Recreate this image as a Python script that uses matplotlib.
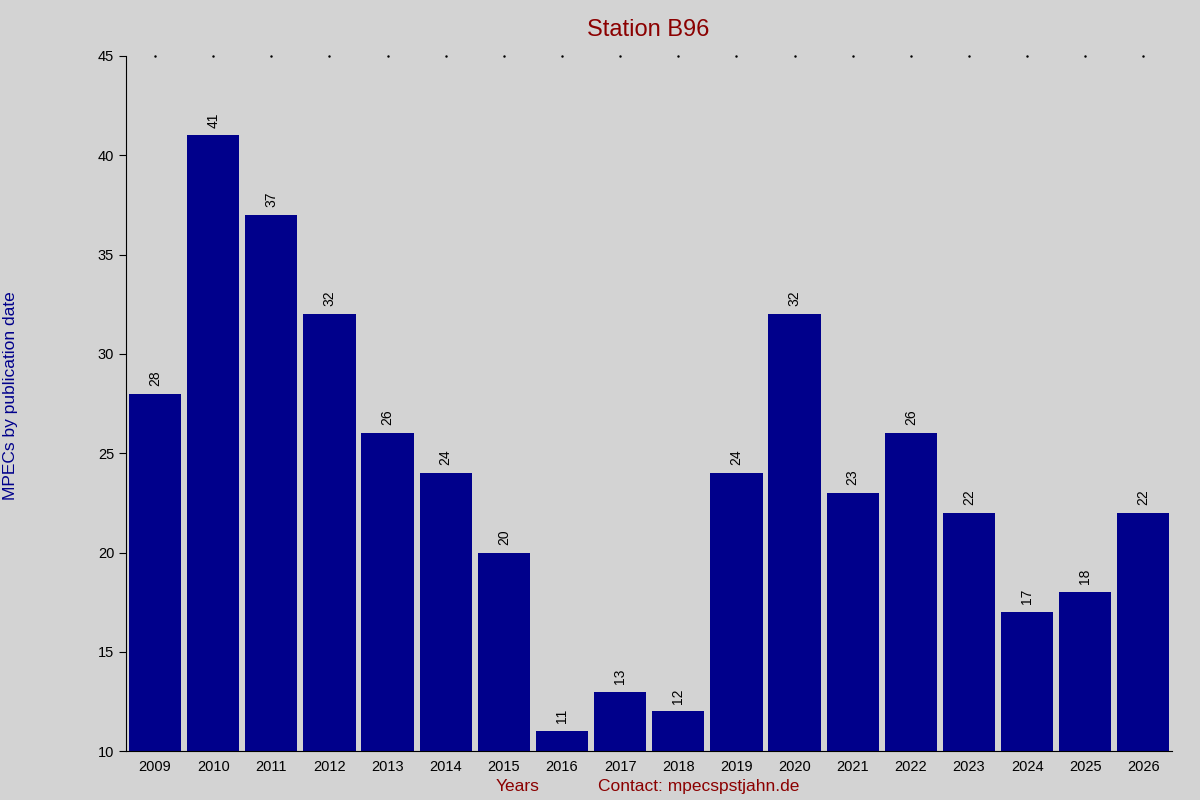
import matplotlib
matplotlib.use("Agg")
import matplotlib.pyplot as plt

years = [str(y) for y in range(2009, 2027)]
counts = [28, 41, 37, 32, 26, 24, 20, 11, 13, 12, 24, 32, 23, 26, 22, 17, 18, 22]

plt.rcParams['font.family'] = ['Liberation Sans', 'DejaVu Sans']
fig = plt.figure(figsize=(12, 8), dpi=100, facecolor='#d3d3d3')
ax = fig.add_axes([0.105, 0.061, 0.872, 0.869], facecolor='#d3d3d3')
x = list(range(len(years)))
ax.bar(x, [c - 10 for c in counts], bottom=10, width=0.9, color='#00008b')
for xi, c in zip(x, counts):
    ax.text(xi, c + 0.4, str(c), rotation=90, ha='center', va='bottom', fontsize=10, color='black')
ax.set_xlim(-0.5, len(years) - 0.5)
ax.set_ylim(10, 45)
ax.set_yticks(range(10, 46, 5))
ax.set_xticks(x)
ax.set_xticklabels(years, fontsize=10.5)
ax.tick_params(axis='y', labelsize=10.5, direction='out', length=5)
ax.tick_params(axis='x', length=0, pad=6)
for s in ['top', 'right']:
    ax.spines[s].set_visible(False)
for xi in x:
    ax.plot(xi, 45, marker='.', markersize=1.5, color='black', clip_on=False)
fig.text(0.54, 0.962, 'Station B96', ha='center', va='center', fontsize=17, color='#8b0000')
fig.text(0.431, 0.017, 'Years', ha='center', va='center', fontsize=12.5, color='#8b0000')
fig.text(0.582, 0.017, 'Contact: mpecspstjahn.de', ha='center', va='center', fontsize=12.5, color='#8b0000')
fig.text(0.009, 0.505, 'MPECs by publication date', rotation=90, ha='center', va='center', fontsize=12.5, color='#00008b')
fig.savefig('out.png', dpi=100, facecolor=fig.get_facecolor())
